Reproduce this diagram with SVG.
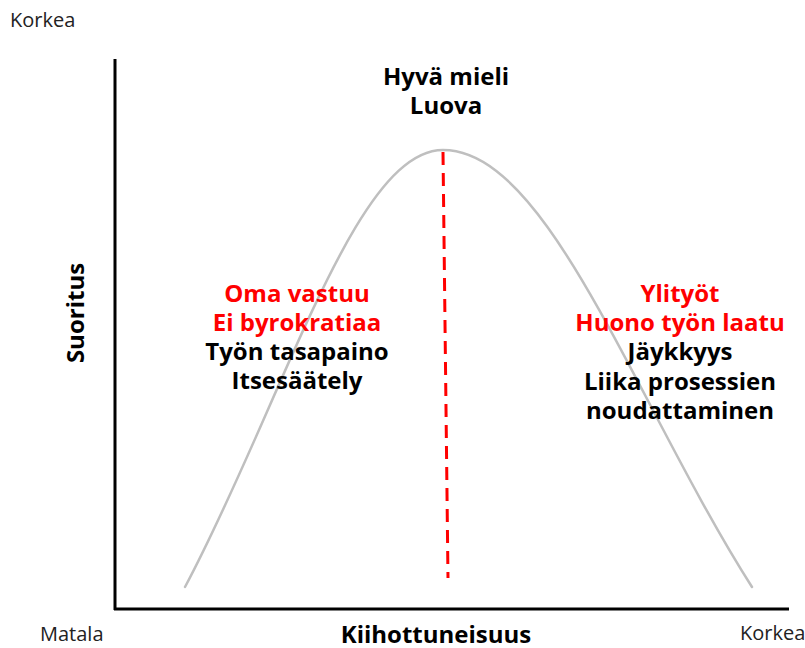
<svg xmlns="http://www.w3.org/2000/svg" width="805" height="648" viewBox="0 0 805 648">
<style>
.lbl{font-family:"Open Sans","Liberation Sans",sans-serif;font-weight:bold;font-size:24px;text-anchor:middle}
.red{fill:#ff0000}
.blk{fill:#000}
.sm{font-family:"Open Sans","Liberation Sans",sans-serif;font-size:20px;fill:#222}
.axis{stroke:#000;stroke-width:3;fill:none}
</style>
<rect width="805" height="648" fill="#fff"/>
<g id="axes">
<line class="axis" x1="115" y1="59" x2="115" y2="610"/>
<line class="axis" x1="114" y1="609" x2="789" y2="609"/>
</g>
<g id="curve">
<path fill="none" stroke="#bfbfbf" stroke-width="2.5" stroke-linecap="round" d="M185,587 C212.7,535.1 240.3,472.8 268,409.5 C329,270.1 382,150 443,150 C516.1,150 579.5,270.1 652.6,409.5 C685.8,472.8 718.8,535.1 752,587"/>
</g>
<g id="connectors">
<line x1="443" y1="152" x2="448" y2="578" stroke="#ff0000" stroke-width="3" stroke-dasharray="13 8"/>
</g>
<g id="top">
<text class="lbl blk" x="446" y="85">Hyvä mieli</text>
<text class="lbl blk" x="446" y="114">Luova</text>
</g>
<g id="left">
<text class="lbl red" x="297" y="302">Oma vastuu</text>
<text class="lbl red" x="297" y="331">Ei byrokratiaa</text>
<text class="lbl blk" x="297" y="360">Työn tasapaino</text>
<text class="lbl blk" x="297" y="389">Itsesäätely</text>
</g>
<g id="right">
<text class="lbl red" x="680" y="302">Ylityöt</text>
<text class="lbl red" x="680" y="331">Huono työn laatu</text>
<text class="lbl blk" x="680" y="360">Jäykkyys</text>
<text class="lbl blk" x="680" y="390">Liika prosessien</text>
<text class="lbl blk" x="680" y="419">noudattaminen</text>
</g>
<g id="axis-labels">
<text class="lbl blk" x="436" y="643">Kiihottuneisuus</text>
<text class="lbl blk" transform="translate(84,313) rotate(-90)" x="0" y="0">Suoritus</text>
<text class="sm" x="10" y="27">Korkea</text>
<text class="sm" x="40" y="641">Matala</text>
<text class="sm" x="740" y="640">Korkea</text>
</g>
</svg>
